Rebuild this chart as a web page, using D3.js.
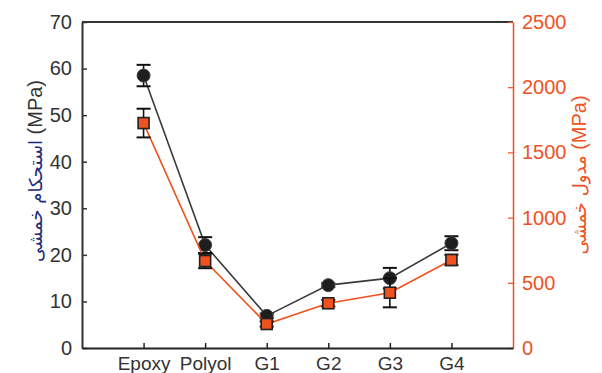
<!DOCTYPE html>
<html><head><meta charset="utf-8">
<script src="https://cdn.jsdelivr.net/npm/d3@7"></script>
<style>body{margin:0;background:#fff}svg{display:block}</style>
</head><body><svg id="c" width="602" height="373"></svg>
<script>
const categories = ["Epoxy", "Polyol", "G1", "G2", "G3", "G4"];
const strength = [58.5, 22.1, 6.9, 13.5, 15.0, 22.5];
const strengthErr = [2.3, 1.7, 0.5, 0.4, 2.2, 1.5];
const modulus = [1725, 667, 184, 343, 424, 675];
const modulusErr = [110, 55, 20, 25, 112, 40];
const leftTicks = [0, 10, 20, 30, 40, 50, 60, 70];
const rightTicks = [0, 500, 1000, 1500, 2000, 2500];

const svg = d3.select("#c");
const L = 82, R = 513, T = 22, B = 348;
const font = "'Liberation Sans', Arial, 'DejaVu Sans', sans-serif";
const orange = "#F0521F";
const grey = "#333";

const x = d3.scaleLinear().domain([0, categories.length + 1]).range([L, R]);
const yL = d3.scaleLinear().domain([0, 70]).range([B, T]);
const yR = d3.scaleLinear().domain([0, 2500]).range([B, T]);

// top border
svg.append("line").attr("x1", L).attr("x2", R).attr("y1", T).attr("y2", T)
  .attr("stroke", "#333").attr("stroke-width", 2);

// left axis
const gl = svg.append("g").attr("transform", `translate(${L},0)`)
  .call(d3.axisLeft(yL).tickValues(leftTicks).tickFormat(d3.format("d")).tickSize(-5).tickPadding(10).tickSizeOuter(0));
gl.select(".domain").attr("stroke", grey).attr("stroke-width", 2);
gl.selectAll(".tick line").attr("stroke", grey).attr("stroke-width", 1.5);
gl.selectAll(".tick text").attr("fill", "#333").style("font-family", font).style("font-size", "20px");

// right axis
const gr = svg.append("g").attr("transform", `translate(${R},0)`)
  .call(d3.axisRight(yR).tickValues(rightTicks).tickFormat(d3.format("d")).tickSize(-5).tickPadding(9).tickSizeOuter(0));
gr.select(".domain").attr("stroke", orange).attr("stroke-width", 1.5);
gr.selectAll(".tick line").attr("stroke", orange).attr("stroke-width", 1.2);
gr.selectAll(".tick text").attr("fill", orange).style("font-family", font).style("font-size", "20px");

// bottom axis
const gb = svg.append("g").attr("transform", `translate(0,${B})`)
  .call(d3.axisBottom(x).tickValues(categories.map((c, i) => i + 1))
    .tickFormat((d) => categories[d - 1]).tickSize(-5).tickPadding(9).tickSizeOuter(0));
gb.select(".domain").attr("stroke", "#222").attr("stroke-width", 2);
gb.selectAll(".tick line").attr("stroke", "#222").attr("stroke-width", 1.5);
gb.selectAll(".tick text").attr("fill", "#333").style("font-family", font).style("font-size", "19px");

// series
function series(vals, errs, y, lineColor, shape) {
  const g = svg.append("g");
  g.append("path").datum(vals)
    .attr("d", d3.line().x((d, i) => x(i + 1)).y((d) => y(d)))
    .attr("fill", "none").attr("stroke", lineColor).attr("stroke-width", 1.6);
  const eb = g.selectAll(".eb").data(vals).enter().append("g");
  eb.append("line").attr("x1", (d, i) => x(i + 1)).attr("x2", (d, i) => x(i + 1))
    .attr("y1", (d, i) => y(d - errs[i])).attr("y2", (d, i) => y(d + errs[i]))
    .attr("stroke", "#111").attr("stroke-width", 1.6);
  [1, -1].forEach((s) => {
    eb.append("line").attr("x1", (d, i) => x(i + 1) - 7).attr("x2", (d, i) => x(i + 1) + 7)
      .attr("y1", (d, i) => y(d + s * errs[i])).attr("y2", (d, i) => y(d + s * errs[i]))
      .attr("stroke", "#111").attr("stroke-width", 2);
  });
  if (shape === "circle") {
    g.selectAll(".m").data(vals).enter().append("circle")
      .attr("cx", (d, i) => x(i + 1)).attr("cy", (d) => y(d)).attr("r", 6.5)
      .attr("fill", "#1e1e1e").attr("stroke", "#444").attr("stroke-width", 1);
  } else {
    g.selectAll(".m").data(vals).enter().append("rect")
      .attr("x", (d, i) => x(i + 1) - 5.5).attr("y", (d) => y(d) - 5.5)
      .attr("width", 11).attr("height", 11)
      .attr("fill", orange).attr("stroke", "#222").attr("stroke-width", 1.6);
  }
}
series(strength, strengthErr, yL, "#3a3a3a", "circle");
series(modulus, modulusErr, yR, orange, "square");

// axis titles
const lt = svg.append("text").attr("transform", `translate(42,171) rotate(-90)`)
  .attr("text-anchor", "middle").style("font-family", font).style("font-size", "20px");
lt.append("tspan").attr("fill", "#1b2a78").style("font-family", "'DejaVu Sans', sans-serif").style("font-size", "18px").text("استحکام خمشی");
lt.append("tspan").attr("fill", "#333").text(" (MPa)");

const rt = svg.append("text").attr("transform", `translate(586,175) rotate(-90)`)
  .attr("text-anchor", "middle").style("font-family", font).style("font-size", "20px");
rt.append("tspan").attr("fill", orange).style("font-family", "'DejaVu Sans', sans-serif").style("font-size", "18px").text("مدول خمشی");
rt.append("tspan").attr("fill", orange).text(" (MPa)");
</script></body></html>
